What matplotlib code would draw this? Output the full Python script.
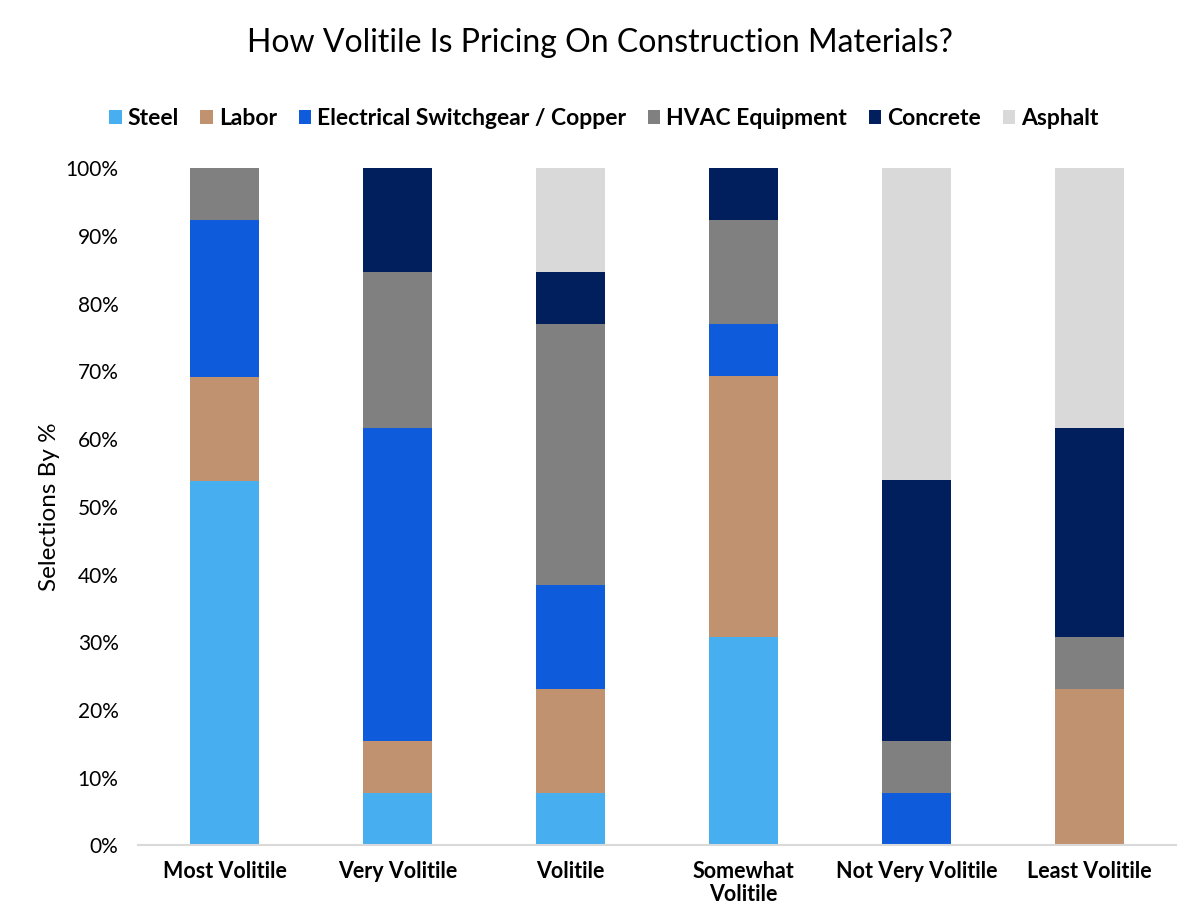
import numpy as np
import matplotlib.pyplot as plt
from matplotlib.ticker import PercentFormatter

plt.rcParams['font.family'] = ['Lato', 'DejaVu Sans']

categories = ["Most Volitile", "Very Volitile", "Volitile",
              "Somewhat\nVolitile", "Not Very Volitile", "Least Volitile"]
series = ["Steel", "Labor", "Electrical Switchgear / Copper",
          "HVAC Equipment", "Concrete", "Asphalt"]
colors = ["#47aeef", "#c09270", "#0e5bdc", "#808080", "#001f5c", "#d9d9d9"]

# share of selections (%) per category, one list per series
steel = [53.8, 7.7, 7.7, 30.8, 0.0, 0.0]
labor = [15.4, 7.7, 15.4, 38.5, 0.0, 23.1]
electrical = [23.1, 46.2, 15.4, 7.7, 7.7, 0.0]
hvac = [7.7, 23.1, 38.5, 15.4, 7.7, 7.7]
concrete = [0.0, 15.4, 7.7, 7.7, 38.5, 30.8]
asphalt = [0.0, 0.0, 15.4, 0.0, 46.2, 38.5]
values = [steel, labor, electrical, hvac, concrete, asphalt]

fig = plt.figure(figsize=(12, 9.24), dpi=100)
ax = fig.add_axes([0.115, 0.085, 0.865, 0.733])

x = np.arange(len(categories))
bottom = np.zeros(len(categories))
for name, vals, c in zip(series, values, colors):
    vals = np.array(vals)
    ax.bar(x, vals, bottom=bottom, width=0.4, color=c, label=name)
    bottom += vals

ax.set_xlim(-0.5, len(categories) - 0.5)
ax.set_ylim(0, 100)
ax.set_yticks(np.arange(0, 101, 10))
ax.yaxis.set_major_formatter(PercentFormatter(decimals=0))
ax.set_xticks(x)
ax.set_xticklabels(categories, fontweight='bold', fontsize=15.5, linespacing=1.15)
ax.tick_params(axis='y', labelsize=15, length=0, pad=14)
ax.tick_params(axis='x', length=0, pad=11)
for s in ['top', 'right', 'left']:
    ax.spines[s].set_visible(False)
ax.spines['bottom'].set_color('#d9d9d9')
ax.spines['bottom'].set_linewidth(1.5)
ax.set_ylabel("Selections By %", fontsize=17.5, labelpad=4)

fig.suptitle("How Volitile Is Pricing On Construction Materials?",
             fontsize=23, y=0.97)
fig.legend(loc='center', bbox_to_anchor=(0.503, 0.872), ncol=6, frameon=False,
           prop={'weight': 'bold', 'size': 16.5}, handlelength=0.55,
           handleheight=0.55, handletextpad=0.25, columnspacing=0.95)

fig.savefig("out.png", dpi=100)
